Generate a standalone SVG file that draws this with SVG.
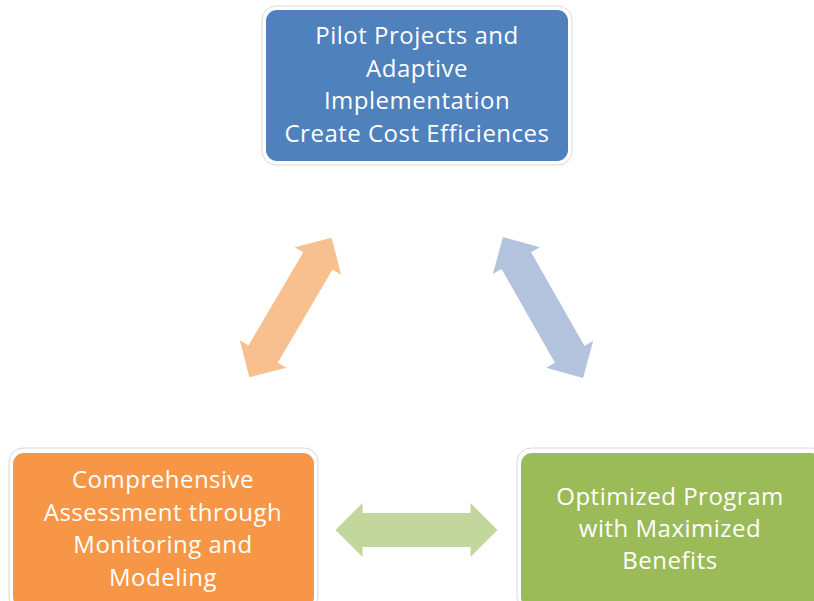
<svg xmlns="http://www.w3.org/2000/svg" xmlns:xlink="http://www.w3.org/1999/xlink" width="814" height="601" viewBox="0 0 814 601">
<style>
.frame{fill:#ffffff;stroke:#d9d9d9;stroke-width:1}
.lbl{font-family:"Open Sans","Liberation Sans",sans-serif;font-size:24px;letter-spacing:0.5px;fill:#ffffff;text-anchor:middle}
</style>
<defs>
<path id="dbl" d="M-81,0 L-54,-27 L-54,-17 L54,-17 L54,-27 L81,0 L54,27 L54,17 L-54,17 L-54,27 Z"/>
</defs>
<rect width="814" height="601" fill="#ffffff"/>
<g id="connectors">
<use xlink:href="#dbl" fill="#F9C08F" transform="translate(290.5,307.5) rotate(-59.5)"/>
<use xlink:href="#dbl" fill="#B3C3DD" transform="translate(543,307.5) rotate(60.4)"/>
<use xlink:href="#dbl" fill="#C3D69B" transform="translate(416.5,530)"/>
</g>
<g id="node-pilot">
<rect class="frame" x="262" y="6" width="310" height="159" rx="14"/>
<rect x="266" y="10" width="302" height="151" rx="11" fill="#4F81BD"/>
<text class="lbl" x="417" y="44">Pilot Projects and</text>
<text class="lbl" x="417" y="76.5">Adaptive</text>
<text class="lbl" x="417" y="109">Implementation</text>
<text class="lbl" x="417" y="141.5">Create Cost Efficiences</text>
</g>
<g id="node-assessment">
<rect class="frame" x="9" y="448" width="309" height="162" rx="14"/>
<rect x="13" y="453" width="301" height="155" rx="11" fill="#F79646"/>
<text class="lbl" x="163" y="488">Comprehensive</text>
<text class="lbl" x="163" y="520.5">Assessment through</text>
<text class="lbl" x="163" y="553">Monitoring and</text>
<text class="lbl" x="163" y="585.5">Modeling</text>
</g>
<g id="node-optimized">
<rect class="frame" x="517" y="448" width="309" height="162" rx="14"/>
<rect x="521" y="453" width="301" height="155" rx="11" fill="#9BBB59"/>
<text class="lbl" x="670" y="505">Optimized Program</text>
<text class="lbl" x="670" y="537">with Maximized</text>
<text class="lbl" x="670" y="569">Benefits</text>
</g>
</svg>
